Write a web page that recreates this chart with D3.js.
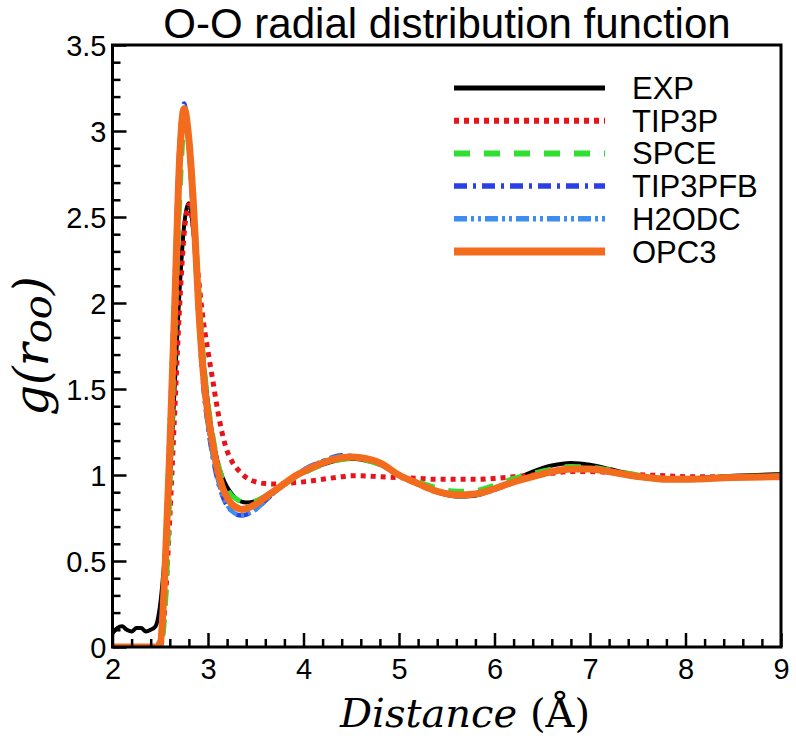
<!DOCTYPE html>
<html><head><meta charset="utf-8">
<script src="https://cdn.jsdelivr.net/npm/d3@7"></script>
<style>body{margin:0;background:#fff}svg{display:block}</style>
</head><body>
<svg id="c" width="796" height="736"></svg>
<script>
// ---------- data ----------
const titleText = "O-O radial distribution function";
const seriesNames = ["EXP","TIP3P","SPCE","TIP3PFB","H2ODC","OPC3"];
const xTicks = [2,3,4,5,6,7,8,9];
const yTicks = [0,0.5,1,1.5,2,2.5,3,3.5];

const expX = [2.0,2.05,2.1,2.15,2.2,2.25,2.3,2.35,2.4,2.45,2.5,2.55,2.6,2.65,2.7,2.75,2.8,2.85,2.9,2.95,3.0,3.05,3.1,3.15,3.2,3.25,3.3,3.35,3.4,3.5,3.6,3.7,3.8,3.9,4.0,4.2,4.4,4.5,4.6,4.8,5.0,5.2,5.4,5.6,5.8,6.0,6.2,6.4,6.6,6.8,7.0,7.2,7.4,7.6,7.8,8.0,8.5,9.0];
const expY = [0.08,0.11,0.12,0.10,0.09,0.11,0.11,0.09,0.10,0.12,0.25,0.55,0.95,1.5,2.05,2.45,2.58,2.4,2.05,1.68,1.42,1.22,1.08,0.99,0.93,0.89,0.86,0.845,0.84,0.85,0.88,0.915,0.95,0.985,1.015,1.06,1.09,1.095,1.09,1.06,1.0,0.945,0.9,0.875,0.88,0.92,0.97,1.02,1.055,1.07,1.06,1.035,1.01,0.99,0.98,0.98,0.995,1.005];

const modelX = [2.0,2.45,2.5,2.55,2.6,2.65,2.7,2.75,2.8,2.85,2.9,2.95,3.0,3.05,3.1,3.15,3.2,3.25,3.3,3.35,3.4,3.5,3.6,3.7,3.8,3.9,4.0,4.2,4.4,4.5,4.6,4.8,5.0,5.2,5.4,5.6,5.8,6.0,6.2,6.4,6.6,6.8,7.0,7.2,7.4,7.6,7.8,8.0,8.5,9.0];
const tip3pY = [0,0,0.0,0.25,0.75,1.35,1.95,2.4,2.57,2.42,2.15,1.9,1.72,1.55,1.38,1.24,1.14,1.08,1.04,1.01,0.985,0.96,0.95,0.948,0.95,0.955,0.96,0.975,0.99,0.995,0.995,0.99,0.985,0.98,0.975,0.975,0.975,0.98,0.99,1.0,1.01,1.02,1.02,1.015,1.005,1.0,0.995,0.99,0.99,0.995];
const spceY = [0,0,0.0,0.2,0.9,1.75,2.55,3.0,2.95,2.6,2.1,1.7,1.42,1.23,1.08,0.98,0.92,0.88,0.86,0.845,0.84,0.85,0.875,0.91,0.945,0.98,1.01,1.06,1.09,1.095,1.09,1.06,1.0,0.96,0.925,0.905,0.91,0.94,0.98,1.01,1.035,1.05,1.045,1.03,1.01,0.99,0.98,0.98,0.99,0.995];
const tip3pfbY = [0,0,0.05,0.55,1.3,2.1,2.9,3.16,2.9,2.45,1.92,1.52,1.28,1.1,0.97,0.88,0.82,0.79,0.77,0.765,0.77,0.8,0.85,0.9,0.95,0.99,1.03,1.08,1.115,1.11,1.1,1.065,0.995,0.945,0.9,0.88,0.885,0.915,0.955,0.99,1.015,1.03,1.03,1.015,0.995,0.98,0.975,0.975,0.985,0.99];
const h2odcY = [0,0,0.04,0.52,1.27,2.07,2.88,3.15,2.9,2.46,1.94,1.54,1.29,1.11,0.98,0.885,0.825,0.79,0.772,0.768,0.772,0.8,0.85,0.9,0.95,0.99,1.03,1.08,1.11,1.11,1.1,1.065,0.995,0.945,0.9,0.88,0.885,0.915,0.955,0.99,1.015,1.03,1.03,1.015,0.995,0.98,0.975,0.975,0.985,0.99];
const opc3Y = [0,0,0.02,0.45,1.15,1.95,2.8,3.13,2.95,2.55,2.0,1.6,1.35,1.18,1.03,0.93,0.87,0.83,0.81,0.8,0.805,0.83,0.87,0.91,0.95,0.99,1.02,1.07,1.1,1.105,1.1,1.07,1.0,0.95,0.905,0.885,0.89,0.92,0.96,0.99,1.02,1.035,1.035,1.02,1.0,0.985,0.975,0.975,0.985,0.99];

// ---------- layout ----------
const svg = d3.select("#c");
const L = 112.5, R = 781, T = 45, B = 647;
const x = d3.scaleLinear().domain([2,9]).range([L,R]);
const y = d3.scaleLinear().domain([0,3.5]).range([B,T]);

const styles = {
  EXP:     {color:"#000000", w:4, dash:null},
  TIP3P:   {color:"#e8141b", w:5, dash:"5,5"},
  SPCE:    {color:"#2fe02f", w:5, dash:"16,14"},
  TIP3PFB: {color:"#2a3fe6", w:4.5, dash:"13,6,3,6"},
  H2ODC:   {color:"#3d8ef0", w:4.5, dash:"13,4,3,4,3,4"},
  OPC3:    {color:"#f36c1e", w:7, dash:null}
};
const series = [
  {name:"EXP", xs:expX, ys:expY},
  {name:"TIP3P", xs:modelX, ys:tip3pY},
  {name:"SPCE", xs:modelX, ys:spceY},
  {name:"TIP3PFB", xs:modelX, ys:tip3pfbY},
  {name:"H2ODC", xs:modelX, ys:h2odcY},
  {name:"OPC3", xs:modelX, ys:opc3Y}
];

svg.append("defs").append("clipPath").attr("id","clip")
  .append("rect").attr("x",L).attr("y",T).attr("width",R-L).attr("height",B-T);

const line = d3.line().x(d=>x(d[0])).y(d=>y(d[1])).curve(d3.curveMonotoneX);
const gL = svg.append("g").attr("clip-path","url(#clip)");
series.forEach(s=>{
  const st = styles[s.name];
  const pts = s.xs.map((v,i)=>[v,s.ys[i]]);
  gL.append("path").attr("d",line(pts)).attr("fill","none")
    .attr("stroke",st.color).attr("stroke-width",st.w)
    .attr("stroke-dasharray",st.dash).attr("stroke-linejoin","round");
});

// axes
const font = "'Liberation Sans', Arial, sans-serif";
const xMinor = d3.range(2,9.001,0.2).filter(v=>Math.abs(v-Math.round(v))>1e-6);
const yMinor = d3.range(0,3.5001,0.1).filter(v=>Math.abs(v*2-Math.round(v*2))>1e-6);

const gx = svg.append("g").attr("transform",`translate(0,${B})`)
  .call(d3.axisBottom(x).tickValues(xTicks).tickSize(-14).tickPadding(11).tickFormat(d3.format("d")));
svg.append("g").attr("transform",`translate(0,${B})`)
  .call(d3.axisBottom(x).tickValues(xMinor).tickSize(-8).tickFormat(""));
const gy = svg.append("g").attr("transform",`translate(${L},0)`)
  .call(d3.axisLeft(y).tickValues(yTicks).tickSize(-14).tickPadding(6).tickFormat(d=>String(d)));
svg.append("g").attr("transform",`translate(${L},0)`)
  .call(d3.axisLeft(y).tickValues(yMinor).tickSize(-8).tickFormat(""));
svg.selectAll(".domain").remove();
svg.selectAll(".tick line").attr("stroke","#000").attr("stroke-width",2.5);
svg.selectAll(".tick text").attr("fill","#000").style("font-family",font).style("font-size","29px");
gx.selectAll(".tick text").attr("dy","0.72em");
gy.selectAll(".tick text").attr("dy","0.36em");

svg.append("rect").attr("x",L).attr("y",T).attr("width",R-L).attr("height",B-T)
  .attr("fill","none").attr("stroke","#000").attr("stroke-width",3);

// title
svg.append("text").attr("x",447).attr("y",38).attr("text-anchor","middle")
  .style("font-family",font).style("font-size","42px").text(titleText);

// x label
const xl = svg.append("text").attr("x",465).attr("y",727).attr("text-anchor","middle")
  .style("font-family","'DejaVu Serif', serif").style("font-size","40px");
xl.append("tspan").style("font-style","italic").text("Distance");
xl.append("tspan").text(" (Å)");

// y label
const yl = svg.append("text").attr("transform","translate(48,346) rotate(-90)").attr("text-anchor","middle")
  .style("font-family","'DejaVu Serif', serif").style("font-size","48px").style("font-style","italic");
yl.append("tspan").text("g(r");
yl.append("tspan").style("font-size","40px").attr("dy","3").text("oo");
yl.append("tspan").attr("dy","-3").text(")");

// legend
const legY0 = 88, legDy = 32.7;
series.forEach((s,i)=>{
  const st = styles[s.name];
  const yy = legY0 + i*legDy;
  svg.append("line").attr("x1",454).attr("x2",605).attr("y1",yy).attr("y2",yy)
    .attr("stroke",st.color).attr("stroke-width",st.w+1).attr("stroke-dasharray",st.dash);
  svg.append("text").attr("x",632).attr("y",yy+11).style("font-family",font)
    .style("font-size","31px").text(s.name);
});
</script>
</body></html>
